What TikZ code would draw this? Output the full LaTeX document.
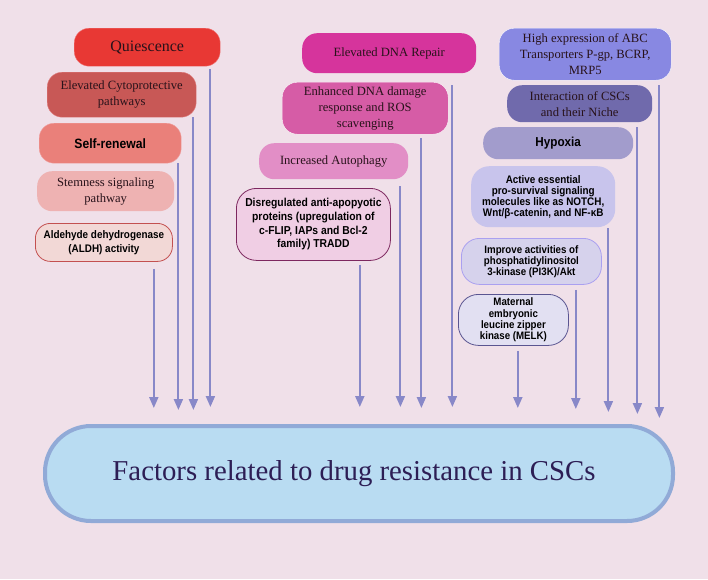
\documentclass[tikz,border=0pt]{standalone}
\usepackage{fontspec}
\setmainfont{Liberation Serif}
\newfontfamily\boxsans[FakeStretch=0.9]{Liberation Sans}
\newfontfamily\titleserif{Liberation Serif}
\usepackage{xcolor}
\usetikzlibrary{arrows.meta}

\definecolor{bgpink}{RGB}{240,224,233}
\definecolor{arrowblue}{RGB}{136,136,200}
\definecolor{boxtext}{RGB}{40,18,26}
\definecolor{titletext}{RGB}{45,30,85}

\begin{document}
\begin{tikzpicture}[x=1pt,y=-1pt]
        \tikzset{box style/.style={rectangle, rounded corners=15pt, anchor=north west, align=center, inner sep=2pt, text=boxtext, font=\fontsize{12.6}{16}\selectfont}}
        \tikzset{sans style/.style={box style, text=black, font=\boxsans\bfseries\fontsize{10.8}{11.2}\selectfont}}
        \tikzset{line style/.style={line width=2pt, color=arrowblue, -{Triangle[width=9pt,length=11pt]}}}

        \fill[bgpink] (0,0) rectangle (708,579);
        \useasboundingbox (0,0) rectangle (708,579);

        % left group
        \node[box style, fill={rgb,255:red,232;green,56;blue,52}, draw={rgb,255:red,240;green,120;blue,120}, minimum width=146pt, minimum height=38pt, font=\fontsize{16}{18}\selectfont] (quies) at (74,28) {Quiescence};
        \node[box style, fill={rgb,255:red,200;green,88;blue,86}, draw={rgb,255:red,225;green,130;blue,130}, minimum width=149pt, minimum height=45pt] (cyto) at (47,72) {Elevated Cytoprotective\\pathways};
        \node[sans style, fill={rgb,255:red,234;green,128;blue,122}, draw={rgb,255:red,240;green,160;blue,160}, minimum width=142pt, minimum height=40pt, font=\boxsans\bfseries\fontsize{13.5}{15}\selectfont] (selfr) at (39,123) {Self-renewal};
        \node[box style, fill={rgb,255:red,238;green,178;blue,178}, minimum width=137pt, minimum height=40pt] (stem) at (37,171) {Stemness signaling\\pathway};
        \node[sans style, fill={rgb,255:red,242;green,216;blue,214}, draw={rgb,255:red,195;green,80;blue,80}, thick, minimum width=137pt, minimum height=38pt, font=\boxsans\bfseries\fontsize{11}{14}\selectfont] (aldh) at (35,223) {Aldehyde dehydrogenase\\(ALDH) activity};

        % middle group
        \node[box style, fill={rgb,255:red,214;green,52;blue,156}, minimum width=174pt, minimum height=40pt] (dnarep) at (302,33) {Elevated DNA Repair};
        \node[box style, fill={rgb,255:red,214;green,92;blue,166}, draw=white, minimum width=166pt, minimum height=52pt] (dnadam) at (282,82) {Enhanced DNA damage\\response and ROS\\scavenging};
        \node[box style, fill={rgb,255:red,226;green,142;blue,198}, minimum width=149pt, minimum height=36pt] (autoph) at (259,143) {Increased Autophagy};
        \node[sans style, fill={rgb,255:red,240;green,206;blue,228}, draw={rgb,255:red,125;green,40;blue,95}, thick, rounded corners=20pt, minimum width=154pt, minimum height=72pt, font=\boxsans\bfseries\fontsize{11.5}{13.7}\selectfont] (apopt) at (236,188) {Disregulated anti-apopyotic\\proteins (upregulation of\\c-FLIP, IAPs and Bcl-2\\family) TRADD};

        % right group
        \node[box style, fill={rgb,255:red,136;green,136;blue,226}, draw=white, minimum width=172pt, minimum height=52pt] (abc) at (499,28) {High expression of ABC\\Transporters P-gp, BCRP,\\MRP5};
        \node[box style, fill={rgb,255:red,112;green,106;blue,172}, minimum width=145pt, minimum height=37pt] (niche) at (507,85) {Interaction of CSCs\\and their Niche};
        \node[sans style, fill={rgb,255:red,162;green,156;blue,204}, minimum width=150pt, minimum height=32pt, font=\boxsans\bfseries\fontsize{13}{14}\selectfont] (hypox) at (483,127) {Hypoxia};
        \node[sans style, fill={rgb,255:red,200;green,196;blue,236}, rounded corners=18pt, minimum width=144pt, minimum height=61pt, font=\boxsans\bfseries\fontsize{11}{11}\selectfont] (surviv) at (471,166) {Active essential\\pro-survival signaling\\molecules like as NOTCH,\\Wnt/β-catenin, and NF-κB};
        \node[sans style, fill={rgb,255:red,214;green,210;blue,236}, draw={rgb,255:red,170;green,160;blue,240}, thick, rounded corners=18pt, minimum width=140pt, minimum height=46pt] (pikt) at (461,238) {Improve activities of\\phosphatidylinositol\\3-kinase (PI3K)/Akt};
        \node[sans style, fill={rgb,255:red,226;green,224;blue,242}, draw={rgb,255:red,90;green,85;blue,145}, thick, rounded corners=20pt, minimum width=110pt, minimum height=51pt] (melk) at (458,294) {Maternal\\embryonic\\leucine zipper\\kinase (MELK)};

        % target
        \node[draw={rgb,255:red,145;green,170;blue,215}, line width=4pt, fill={rgb,255:red,185;green,220;blue,242}, rounded corners=46pt, minimum width=628pt, minimum height=95pt, text=titletext, font=\titleserif\fontsize{28.8}{32}\selectfont] (factors) at (359,473.5) {Factors related to drug resistance in CSCs\hspace*{10pt}};

        % arrows down to the target
        \foreach \t in {407,408,409,410,412,414,418}
            \coordinate (tip\t) at (0,\t);
        \foreach \n/\dx/\gap/\t in {quies/10/3/407, cyto/3/0/410, selfr/3/0/410, aldh/19/7/408,
                dnarep/24/12/407, dnadam/27/4/408, autoph/8/7/407, apopt/31/4/407,
                abc/12/5/418, niche/15/5/414, surviv/7/1/412, pikt/26/5/409, melk/51/5/408}
            \draw[line style] ([xshift=-\dx pt, yshift=-\gap pt]\n.south east) -- ([xshift=-\dx pt]\n.south east |- tip\t);
    \end{tikzpicture}
\end{document}
